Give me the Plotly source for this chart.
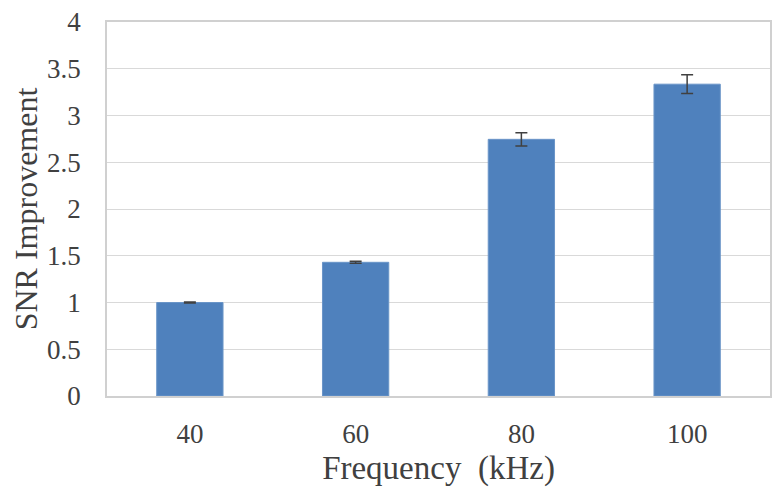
import plotly.graph_objects as go

# data
frequency = ["40", "60", "80", "100"]
snr_improvement = [1.0, 1.43, 2.745, 3.335]
snr_error = [0.005, 0.01, 0.07, 0.1]

fig = go.Figure()

fig.add_trace(
    go.Bar(
        x=frequency,
        y=snr_improvement,
        error_y=dict(
            type="data",
            array=snr_error,
            visible=True,
            color="#404040",
            thickness=1.5,
            width=6,
        ),
        marker=dict(color="#4F81BD", line=dict(color="#6A95C8", width=1)),
        showlegend=False,
    )
)

font_serif = "Liberation Serif, Times New Roman, serif"

# page body adds an 8px offset, so margins are shifted to compensate
fig.update_layout(
    width=783,
    height=500,
    margin=dict(l=99, r=21, t=14, b=112),
    plot_bgcolor="white",
    paper_bgcolor="white",
    bargap=0.6,
    font=dict(family=font_serif, color="#404040"),
    xaxis=dict(
        title=dict(text="Frequency  (kHz)", font=dict(size=33, color="#404040"), standoff=8),
        tickfont=dict(size=27, color="#404040"),
        showline=True,
        linecolor="#d0d0d0",
        linewidth=1.5,
        mirror=True,
        ticks="",
        ticklabelstandoff=13,
        automargin=False,
    ),
    yaxis=dict(
        title=dict(text="SNR Improvement", font=dict(size=32, color="#404040"), standoff=8),
        tickfont=dict(size=27, color="#404040"),
        range=[0, 4],
        dtick=0.5,
        showgrid=True,
        gridcolor="#d9d9d9",
        gridwidth=1,
        showline=True,
        linecolor="#d0d0d0",
        linewidth=1.5,
        mirror=True,
        zeroline=False,
        ticks="",
        ticklabelstandoff=19,
        ticklabeloverflow="allow",
        automargin=False,
    ),
)

fig.write_html("out.html")
